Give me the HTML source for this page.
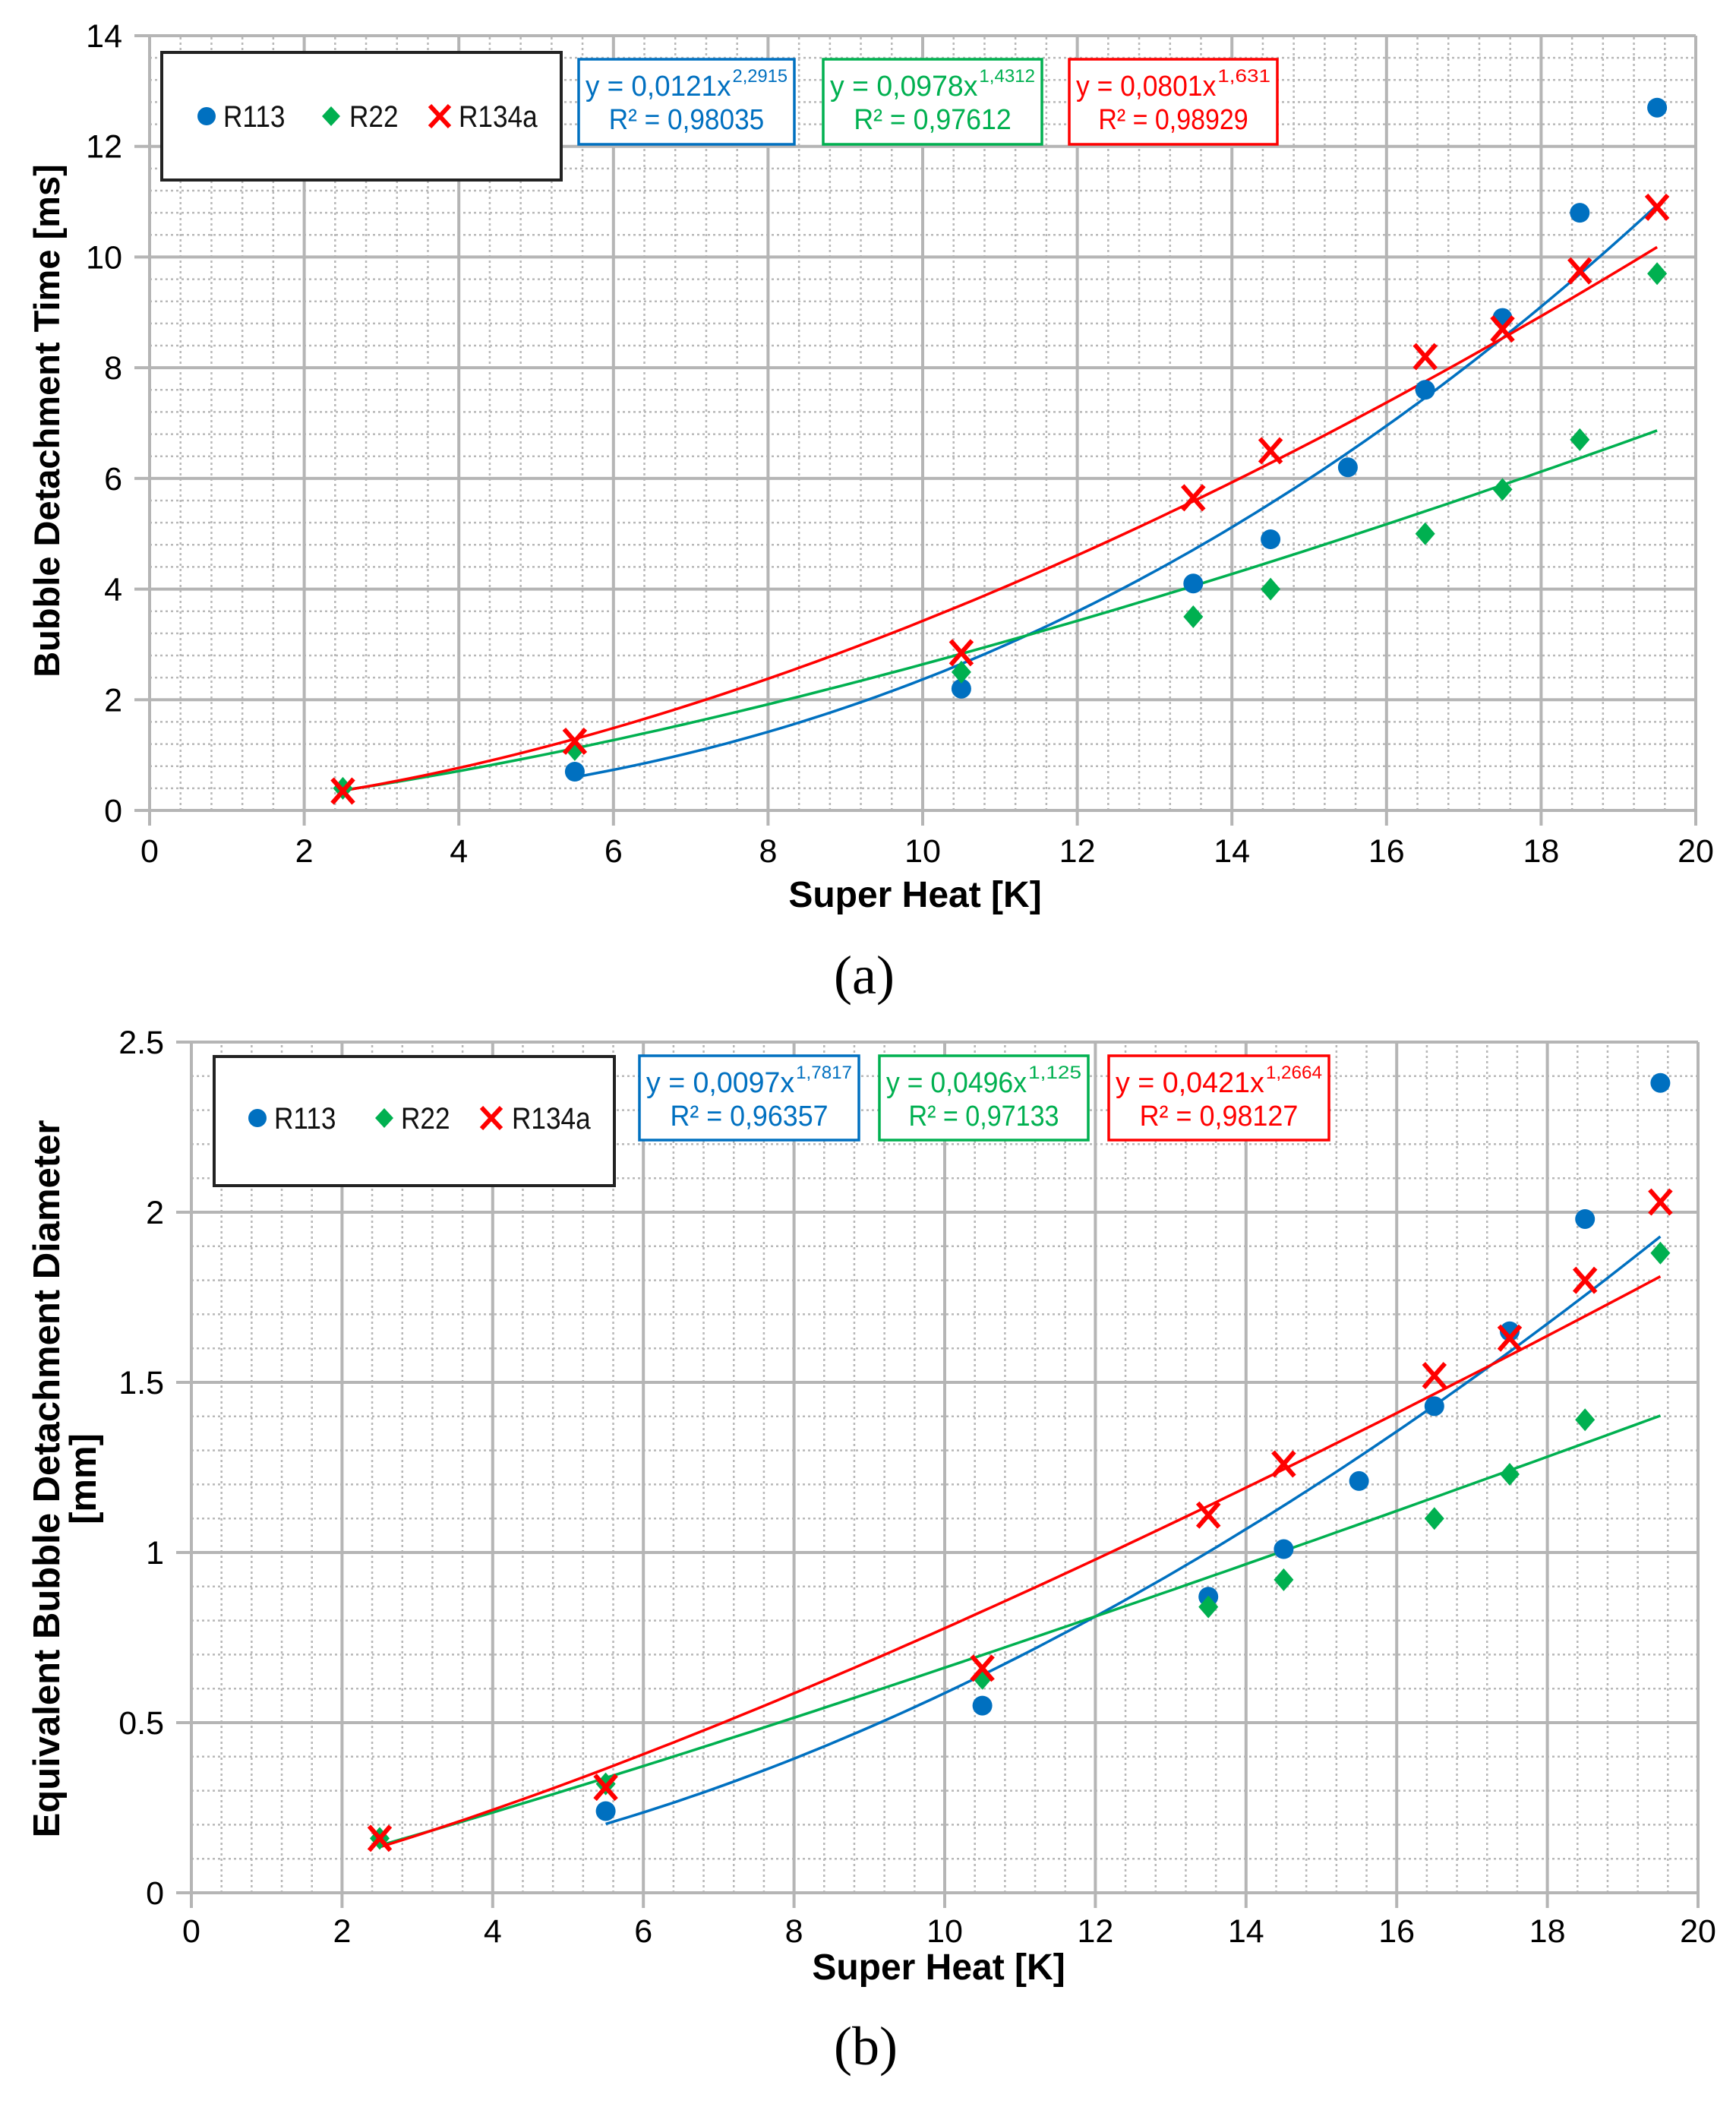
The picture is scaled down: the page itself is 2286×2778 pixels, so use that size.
<!DOCTYPE html>
<html><head><meta charset="utf-8">
<style>
html,body{margin:0;padding:0;background:#fff;}
svg{display:block;}
text{font-family:"Liberation Sans",sans-serif;}
</style></head>
<body>
<svg id="fig" width="2286" height="2778" viewBox="0 0 2286 2778" xmlns="http://www.w3.org/2000/svg"></svg>
<script>
// ---- Chart (a) data ----
const xsA_R113 = [5.5,10.5,13.5,14.5,15.5,16.5,17.5,18.5,19.5];
const ysA_R113 = [0.7,2.2,4.1,4.9,6.2,7.6,8.9,10.8,12.7];
const xsA_R22 = [2.5,5.5,10.5,13.5,14.5,16.5,17.5,18.5,19.5];
const ysA_R22 = [0.4,1.1,2.5,3.5,4.0,5.0,5.8,6.7,9.7];
const xsA_R134a = [2.5,5.5,10.5,13.5,14.5,16.5,17.5,18.5,19.5];
const ysA_R134a = [0.35,1.25,2.85,5.65,6.5,8.2,8.7,9.75,10.9];
const fitA_coef = [0.0121,0.0978,0.0801];
const fitA_exp = [2.2915,1.4312,1.631];
const fitA_start = [5.5,2.5,2.5];
const eqA_coefLabel = ["0,0121","0,0978","0,0801"];
const eqA_expLabel = ["2,2915","1,4312","1,631"];
const eqA_r2Label = ["0,98035","0,97612","0,98929"];
const yTicksA = [0,2,4,6,8,10,12,14];
// ---- Chart (b) data ----
const xsB_R113 = [5.5,10.5,13.5,14.5,15.5,16.5,17.5,18.5,19.5];
const ysB_R113 = [0.24,0.55,0.87,1.01,1.21,1.43,1.65,1.98,2.38];
const xsB_R22 = [2.5,5.5,10.5,13.5,14.5,16.5,17.5,18.5,19.5];
const ysB_R22 = [0.16,0.32,0.63,0.84,0.92,1.10,1.23,1.39,1.88];
const xsB_R134a = [2.5,5.5,10.5,13.5,14.5,16.5,17.5,18.5,19.5];
const ysB_R134a = [0.16,0.31,0.66,1.11,1.26,1.52,1.63,1.80,2.03];
const fitB_coef = [0.0097,0.0496,0.0421];
const fitB_exp = [1.7817,1.125,1.2664];
const fitB_start = [5.5,2.5,2.5];
const eqB_coefLabel = ["0,0097","0,0496","0,0421"];
const eqB_expLabel = ["1,7817","1,125","1,2664"];
const eqB_r2Label = ["0,96357","0,97133","0,98127"];
const yTicksB = [0,0.5,1,1.5,2,2.5];
const yTickLabelsB = ["0","0.5","1","1.5","2","2.5"];
const xTicks = [0,2,4,6,8,10,12,14,16,18,20];
const seriesNames = ["R113","R22","R134a"];

const COLORS = ["#0070C0","#00B050","#FF0000"];
const NS = "http://www.w3.org/2000/svg";
const svg = document.getElementById('fig');
function mk(tag, attrs, parent, txt){
  const e = document.createElementNS(NS, tag);
  for (const k in attrs) e.setAttribute(k, attrs[k]);
  if (txt !== undefined) e.textContent = txt;
  (parent||svg).appendChild(e);
  return e;
}

function drawChart(cfg){
  const g = mk('g', {});
  
  
  const X = v => cfg.x0 + (v - 0) / 20 * (cfg.x1 - cfg.x0);
  const Y = v => cfg.y0 - v / cfg.ymax * (cfg.y0 - cfg.y1);
  const minor = mk('g', {stroke:"#b8b8b8","stroke-width":2.5,"stroke-dasharray":"3 4"}, g);
  
  
  for (let i = 1; i < 50; i++) { if (i % 5 === 0) continue; const v = i * 0.4;
    mk('line', {x1:X(v), x2:X(v), y1:cfg.y0, y2:cfg.y1}, minor); }
  const nMinor = Math.round(cfg.ymax / cfg.yminor);
  for (let i = 1; i < nMinor; i++) { if (i % cfg.yper === 0) continue; const v = i * cfg.yminor;
    mk('line', {x1:cfg.x0, x2:cfg.x1, y1:Y(v), y2:Y(v)}, minor); }
  const major = mk('g', {stroke:"#b5b5b5","stroke-width":4}, g);
  
  
  xTicks.forEach(v => mk('line', {x1:X(v), x2:X(v), y1:cfg.y0 + 20, y2:cfg.y1}, major));
  cfg.yTicks.forEach(v => mk('line', {x1:cfg.x0 - 20, x2:cfg.x1, y1:Y(v), y2:Y(v)}, major));
  xTicks.forEach(v => { const t = mk('text', {x:X(v), y:cfg.xlabY, "font-size":43, "text-anchor":"middle", fill:"#000"}, g, String(v));
      });
  cfg.yTicks.forEach((v, i) => { const t = mk('text', {x:cfg.x0 - 36, y:Y(v) + 15, "font-size":43, "text-anchor":"end", fill:"#000"}, g, cfg.yTickLabels[i]);
      });
  for (let s = 0; s < 3; s++) {
    let d = "";
    for (let k = 0; k <= 100; k++) { const xv = cfg.fitStart[s] + (19.5 - cfg.fitStart[s]) * k / 100;
      const yv = cfg.coef[s] * Math.pow(xv, cfg.exp[s]);
      d += (k ? "L" : "M") + X(xv).toFixed(1) + "," + Y(yv).toFixed(1); }
    const p = mk('path', {d:d, fill:"none", stroke:COLORS[s], "stroke-width":3.5}, g);
    
    
  }
  const data = cfg.data;
  for (let s = 0; s < 3; s++) {
    const xs = data[s][0], ys = data[s][1];
    for (let i = 0; i < xs.length; i++) {
      const cx = X(xs[i]), cy = Y(ys[i]); let m;
      if (s === 0) m = mk('circle', {cx:cx, cy:cy, r:13, fill:COLORS[0]}, g);
      else if (s === 1) m = mk('path', {d:`M${cx},${cy-15}L${cx+13},${cy}L${cx},${cy+15}L${cx-13},${cy}Z`, fill:COLORS[1]}, g);
      else m = mk('path', {d:`M${cx-14},${cy-16}L${cx+14},${cy+16}M${cx+14},${cy-16}L${cx-14},${cy+16}`, stroke:COLORS[2], "stroke-width":6, fill:"none"}, g);
      
      
    }
  }
  const L = cfg.legend;
  const lg = mk('g', {}, g);
  
  
  mk('rect', {x:L.x, y:L.y, width:L.w, height:L.h, fill:"#fff", stroke:"#222", "stroke-width":4}, lg);
  const ly = L.my;
  mk('circle', {cx:L.m[0], cy:ly, r:12, fill:COLORS[0]}, lg);
  mk('path', {d:`M${L.m[1]},${ly-13}L${L.m[1]+12},${ly}L${L.m[1]},${ly+13}L${L.m[1]-12},${ly}Z`, fill:COLORS[1]}, lg);
  mk('path', {d:`M${L.m[2]-13},${ly-14}L${L.m[2]+13},${ly+14}M${L.m[2]+13},${ly-14}L${L.m[2]-13},${ly+14}`, stroke:COLORS[2], "stroke-width":6}, lg);
  for (let s = 0; s < 3; s++) {
    const t = mk('text', {x:L.t[s], y:ly + 14, "font-size":40, fill:"#111", transform:`translate(${L.t[s]},0) scale(0.88,1) translate(${-L.t[s]},0)`}, lg, seriesNames[s]);
    
    
  }
  for (let s = 0; s < 3; s++) {
    const b = cfg.eqBoxes[s];
    const eg = mk('g', {}, g);
    
    
    mk('rect', {x:b[0], y:b[1], width:b[2] - b[0], height:b[3] - b[1], fill:"#fff", stroke:COLORS[s], "stroke-width":3.5}, eg);
    const cx = (b[0] + b[2]) / 2;
    const l1 = "y = " + cfg.coefLabel[s] + "x";
    const w1 = (b[2] - b[0]) - 18;
    const baseW = w1 * 0.72;
    mk('text', {x:b[0] + 9, y:b[1] + 48, "font-size":38, fill:COLORS[s], textLength:baseW, lengthAdjust:"spacingAndGlyphs"}, eg, l1);
    mk('text', {x:b[0] + 9 + baseW + 2, y:b[1] + 30, "font-size":24, fill:COLORS[s], textLength:w1 - baseW - 2, lengthAdjust:"spacingAndGlyphs"}, eg, cfg.expLabel[s]);
    mk('text', {x:cx, y:b[1] + 92, "font-size":38, fill:COLORS[s], "text-anchor":"middle", textLength:(b[2]-b[0])*0.72, lengthAdjust:"spacingAndGlyphs"}, eg, "R² = " + cfg.r2Label[s]);
  }
}

drawChart({id:"a", x0:197, x1:2233, y0:1067, y1:47, ymax:14, yminor:0.4, yper:5,
  yTicks:yTicksA, yTickLabels:yTicksA.map(String), xlabY:1135,
  data:[[xsA_R113,ysA_R113],[xsA_R22,ysA_R22],[xsA_R134a,ysA_R134a]],
  coef:fitA_coef, exp:fitA_exp, fitStart:fitA_start,
  coefLabel:eqA_coefLabel, expLabel:eqA_expLabel, r2Label:eqA_r2Label,
  legend:{x:213, y:69, w:526, h:168, my:153, m:[272,436,579], t:[294,460,604]},
  eqBoxes:[[762,78,1046,190],[1084,78,1372,190],[1408,78,1682,190]]});

drawChart({id:"b", x0:252, x1:2236, y0:2492, y1:1372, ymax:2.5, yminor:0.1, yper:5,
  yTicks:yTicksB, yTickLabels:yTickLabelsB, xlabY:2557,
  data:[[xsB_R113,ysB_R113],[xsB_R22,ysB_R22],[xsB_R134a,ysB_R134a]],
  coef:fitB_coef, exp:fitB_exp, fitStart:fitB_start,
  coefLabel:eqB_coefLabel, expLabel:eqB_expLabel, r2Label:eqB_r2Label,
  legend:{x:282, y:1391, w:527, h:170, my:1472, m:[339,506,647], t:[361,528,674]},
  eqBoxes:[[842,1390,1131,1501],[1158,1390,1433,1501],[1460,1390,1750,1501]]});

let t;
t = mk('text', {x:0, y:0, "font-size":47, "font-weight":"bold", "text-anchor":"middle", transform:"translate(78,554) rotate(-90)"}, svg, "Bubble Detachment Time [ms]");
 
t = mk('text', {x:1205, y:1194, "font-size":48, "font-weight":"bold", "text-anchor":"middle"}, svg, "Super Heat [K]");
 
t = mk('text', {x:1138, y:1308, "font-size":72, "text-anchor":"middle", style:"font-family:'Liberation Serif',serif"}, svg, "(a)");
 
t = mk('text', {x:0, y:0, "font-size":49, "font-weight":"bold", "text-anchor":"middle", transform:"translate(78,1947) rotate(-90)"}, svg, "Equivalent Bubble Detachment Diameter");
 
t = mk('text', {x:0, y:0, "font-size":49, "font-weight":"bold", "text-anchor":"middle", transform:"translate(126,1947) rotate(-90)"}, svg, "[mm]");
 
t = mk('text', {x:1236, y:2606, "font-size":48, "font-weight":"bold", "text-anchor":"middle"}, svg, "Super Heat [K]");
 
t = mk('text', {x:1140, y:2718, "font-size":72, "text-anchor":"middle", style:"font-family:'Liberation Serif',serif"}, svg, "(b)");
 
</script>
</body></html>
